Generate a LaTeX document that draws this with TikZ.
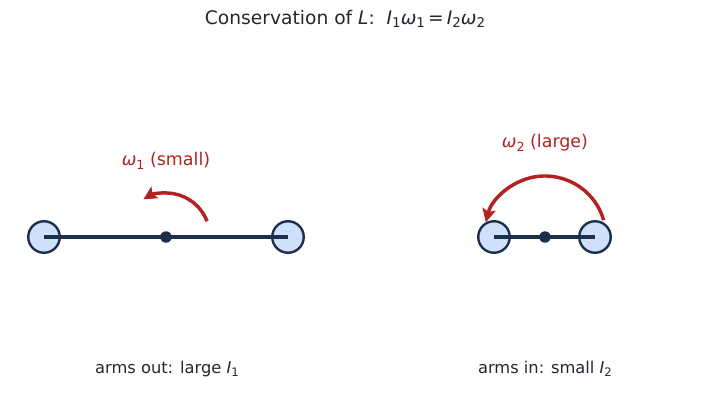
\documentclass[tikz,border=0pt]{standalone}
\usepackage{fontspec}
\setmainfont{DejaVu Sans}
\usetikzlibrary{arrows.meta}
\definecolor{navy}{HTML}{1B2F4A}
\definecolor{massfill}{HTML}{CFE0FA}
\definecolor{arrred}{HTML}{B22222}
\definecolor{txt}{HTML}{23272F}
\newcommand{\sbs}[1]{\raisebox{-0.35ex}{\scalebox{0.72}{#1}}}
\newcommand{\vr}[1]{\textit{#1}}
\begin{document}
\begin{tikzpicture}[x=0.75pt,y=-0.75pt,
  mass/.style={circle,draw=navy,fill=massfill,line width=1.8pt,minimum size=31.5*0.75pt,inner sep=0pt},
  pivot/.style={circle,fill=navy,minimum size=11.5*0.75pt,inner sep=0pt},
  rod/.style={draw=navy,line width=2.3pt},
  rot/.style={draw=arrred,line width=2.6pt,-{Stealth[length=10pt,width=10pt,inset=2pt]}},
  lab/.style={text=txt,font=\fontsize{12.2}{14}\selectfont,inner sep=0pt},
  wlab/.style={text=arrred,font=\fontsize{13.1}{15}\selectfont,inner sep=0pt}]
\useasboundingbox (0,0) rectangle (711,403);
\node[text=txt,font=\fontsize{14}{16}\selectfont,inner sep=0pt] (title) at (345,19) {Conservation of \vr{L}:\ \ \vr{I}\sbs{1}\vr{ω}\sbs{1}\,=\,\vr{I}\sbs{2}\vr{ω}\sbs{2}};
% left
\node[mass] (l1) at (44,237) {};
\node[mass] (l2) at (288,237) {};
\coordinate (lc1) at (44,237);
\coordinate (lc2) at (288,237);
\draw[rod] (lc1) -- (lc2);
\node[pivot] (lp) at (166,237) {};
\draw[rot] ([shift={(-21:44)}]lp.center) arc[start angle=-21,end angle=-121,radius=44];
\node[wlab] (w1) at (166,161) {\vr{ω}\sbs{1} (small)};
\node[lab] (b1) at (167,369) {arms out: large \vr{I}\sbs{1}};
% right
\node[mass] (r1) at (494,237) {};
\node[mass] (r2) at (595,237) {};
\coordinate (rc1) at (494,237);
\coordinate (rc2) at (595,237);
\draw[rod] (rc1) -- (rc2);
\node[pivot] (rp) at (545,237) {};
\draw[rot] ([shift={(-16:61)}]rp.center) arc[start angle=-16,end angle=-166,radius=61];
\node[wlab] (w2) at (545,143) {\vr{ω}\sbs{2} (large)};
\node[lab] (b2) at (545,369) {arms in: small \vr{I}\sbs{2}};
\end{tikzpicture}
\end{document}
